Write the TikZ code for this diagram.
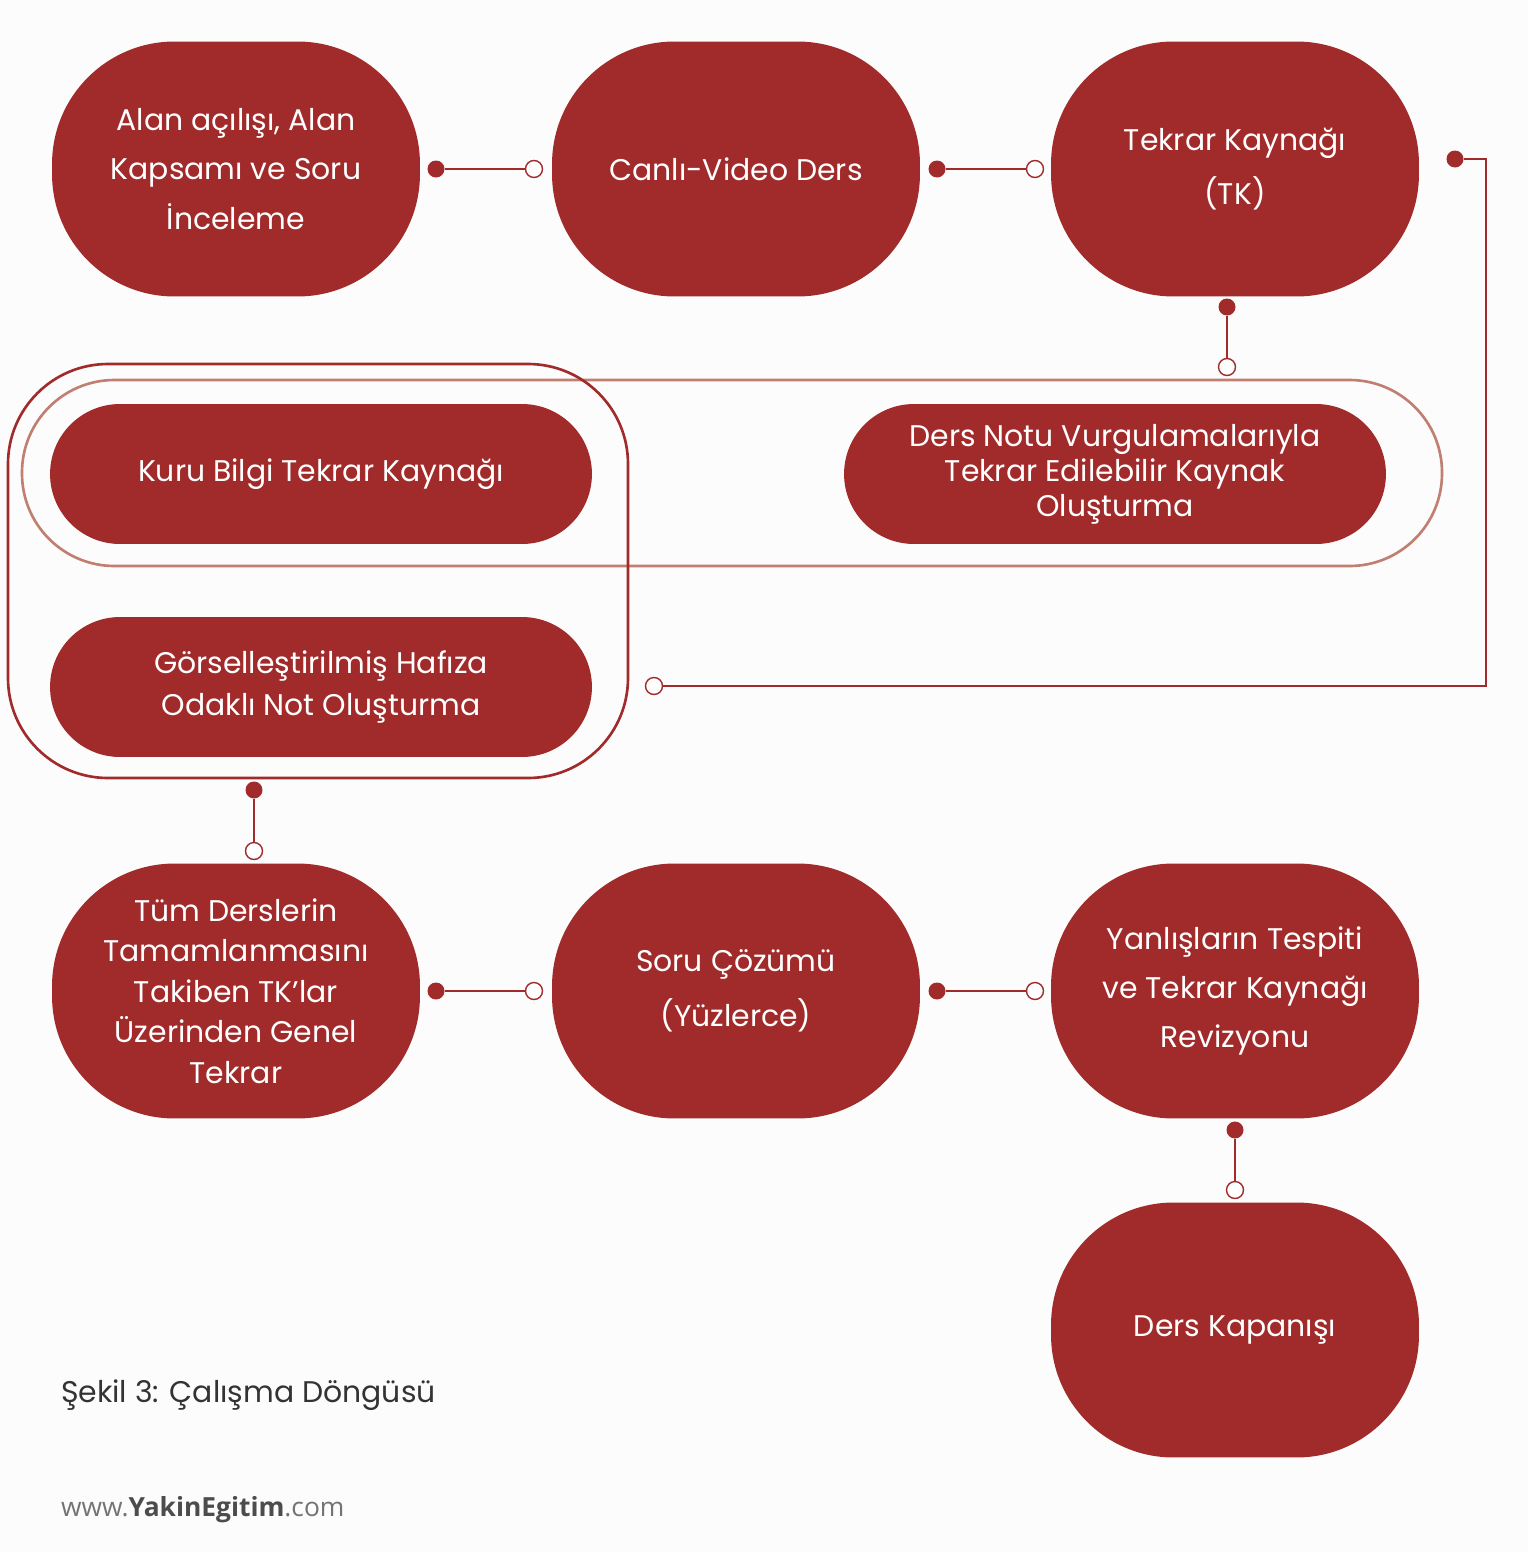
\documentclass[tikz,border=0pt]{standalone}
\usepackage{fontspec}
\setmainfont{Poppins}
\newfontfamily\osans{Open Sans}
\definecolor{dred}{HTML}{A12B2B}
\definecolor{lbrown}{HTML}{C07F70}
\begin{document}
\begin{tikzpicture}[x=0.02cm,y=-0.02cm,
 blob/.style={fill=dred,text=white,minimum width=7.36cm,minimum height=5.1cm,rounded corners=2.45cm,align=center,font=\fontsize{17}{28}\selectfont,inner sep=0pt},
 pill/.style={fill=dred,text=white,minimum width=10.84cm,minimum height=2.8cm,rounded corners=1.4cm,align=center,font=\fontsize{17}{20}\selectfont,inner sep=0pt},
 fdot/.style={circle,fill=dred,inner sep=0pt,minimum size=0.34cm},
 odot/.style={circle,draw=dred,fill=white,line width=0.8pt,inner sep=0pt,minimum size=0.34cm},
 con/.style={draw=dred,line width=0.9pt}]
\fill[white!98!gray] (0,0) rectangle (1528,1552);
\useasboundingbox (0,0) rectangle (1528,1552);
% outlines
\draw[lbrown,line width=1.5pt,rounded corners=1.85cm] (22,380) rectangle (1442,566);
\draw[dred,line width=1.5pt,rounded corners=2cm] (8,364) rectangle (628,778);
% blobs
\node[blob] (a) at (236,169) {Alan açılışı, Alan\\Kapsamı ve Soru\\İnceleme};
\node[blob] (b) at (736,169) {Canlı-Video Ders};
\node[blob,font=\fontsize{17}{31}\selectfont] (c) at (1235,169) {Tekrar Kaynağı\\(TK)};
\node[pill] (k) at (321,474) {Kuru Bilgi Tekrar Kaynağı};
\node[pill] (d) at (1115,474) {Ders Notu Vurgulamalarıyla\\Tekrar Edilebilir Kaynak\\Oluşturma};
\node[pill,font=\fontsize{17}{24}\selectfont] (g) at (321,687) {Görselleştirilmiş Hafıza\\Odaklı Not Oluşturma};
\node[blob,font=\fontsize{17}{23}\selectfont] (t) at (236,991) {Tüm Derslerin\\Tamamlanmasını\\Takiben TK’lar\\Üzerinden Genel\\Tekrar};
\node[blob,font=\fontsize{17}{31}\selectfont] (s) at (736,991) {Soru Çözümü\\(Yüzlerce)};
\node[blob] (y) at (1235,991) {Yanlışların Tespiti\\ve Tekrar Kaynağı\\Revizyonu};
\node[blob] (z) at (1235,1330) {Ders Kapanışı};
% connectors
\node[fdot] (f1) at (436,169) {}; \node[odot] (o1) at (534,169) {};
\node[fdot] (f2) at (937,169) {}; \node[odot] (o2) at (1035,169) {};
\node[fdot] (f3) at (1227,307) {}; \node[odot] (o3) at (1227,367) {};
\node[fdot] (f4) at (1455,159) {}; \node[odot] (o4) at (654,686) {};
\coordinate (r1) at (1486,159); \coordinate (r2) at (1486,686);
\node[fdot] (f5) at (254,790) {}; \node[odot] (o5) at (254,851) {};
\node[fdot] (f6) at (436,991) {}; \node[odot] (o6) at (534,991) {};
\node[fdot] (f7) at (937,991) {}; \node[odot] (o7) at (1035,991) {};
\node[fdot] (f8) at (1235,1130) {}; \node[odot] (o8) at (1235,1190) {};
\draw[con] (f1)--(o1); \draw[con] (f2)--(o2); \draw[con] (f3)--(o3);
\draw[con] (f4)--(r1)--(r2)--(o4); \draw[con] (f5)--(o5);
\draw[con] (f6)--(o6); \draw[con] (f7)--(o7); \draw[con] (f8)--(o8);
% texts
\node[anchor=west,text=black!80,font=\fontsize{17}{20}\selectfont] (cap) at (55,1395) {Şekil 3: Çalışma Döngüsü};
\node[anchor=west,text=black!55,font=\osans\fontsize{15}{18}\selectfont] (web) at (55,1510) {www.\textbf{\color{black!70}YakinEgitim}.com};
\end{tikzpicture}
\end{document}
